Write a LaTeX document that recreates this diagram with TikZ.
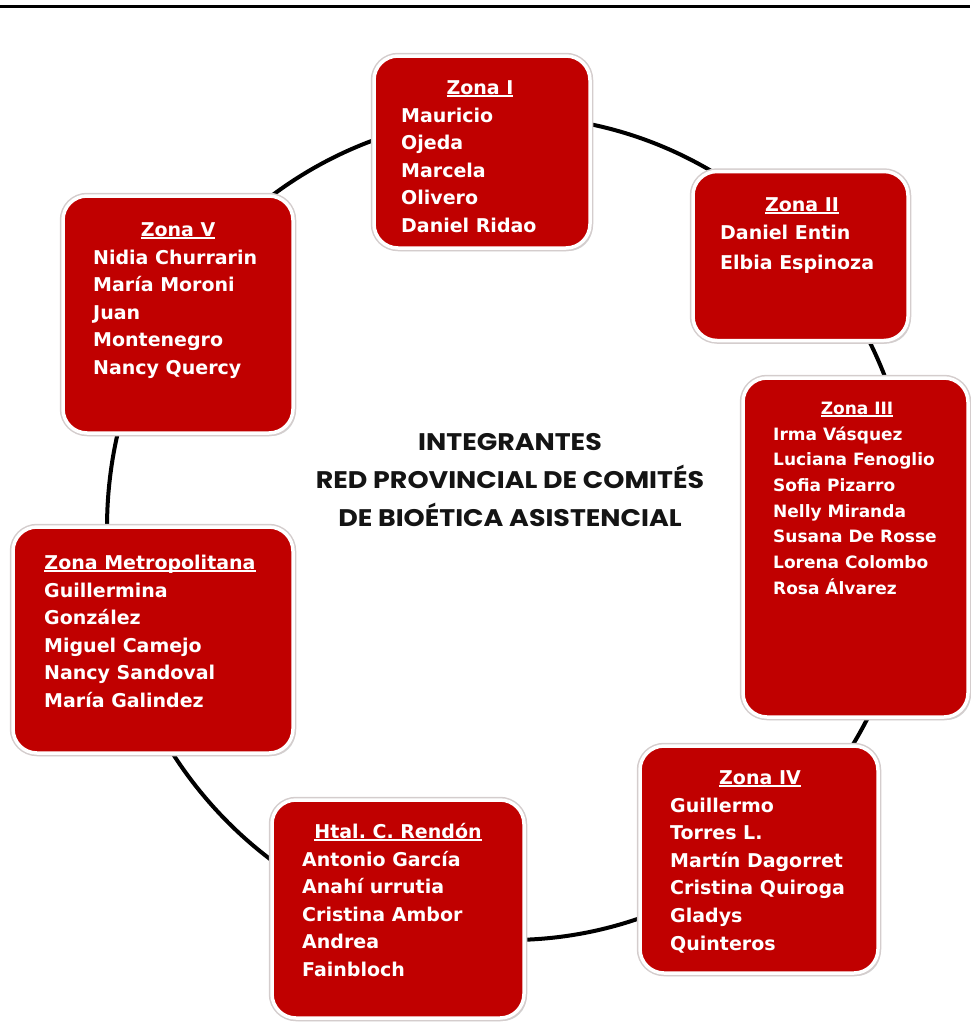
\documentclass[tikz,border=0pt]{standalone}
\usepackage{fontspec}
\setmainfont{DejaVu Sans}
\newfontfamily\boxfont{DejaVu Sans}
\newfontfamily\titlefont{Poppins}[FakeStretch=1.12]
\usetikzlibrary{shadows}
\frenchspacing
\definecolor{zred}{RGB}{192,0,0}
\definecolor{rimgray}{RGB}{212,205,205}
\newcommand{\zul}[1]{{\setbox0\hbox{#1}\rlap{\rule[-2.6pt]{\wd0}{1.7pt}}\box0}}
\newcommand{\bigf}{\boxfont\bfseries\fontsize{19}{27.6}\selectfont}
\newcommand{\smallf}{\boxfont\bfseries\fontsize{17}{25.7}\selectfont}
\tikzset{
  zone/.style={fill=zred, draw=white, line width=3.5pt, rounded corners=24pt, inner sep=0pt,
    drop shadow={shadow xshift=2.5pt, shadow yshift=-3pt, opacity=0.35, fill=gray},
    preaction={draw=rimgray, line width=6.5pt}},
  ring/.style={draw=black, line width=4pt},
  topline/.style={draw=black, line width=3pt},
  ztitle/.style={text=white, anchor=base, inner sep=0pt},
  znames/.style={text=white, anchor=base west, inner sep=0pt},
  heading/.style={font=\titlefont\bfseries\fontsize{24}{38}\selectfont, align=center, text=black!92, inner sep=0pt}
}
\begin{document}
\begin{tikzpicture}[x=1pt, y=-1pt]
\useasboundingbox (0,0) rectangle (970,1031);
% top rule
\coordinate (tl) at (0,6);
\coordinate (tr) at (970,6);
\draw[topline] (tl) -- (tr);
% ring
\coordinate (ringc) at (510,528);
\draw[ring] (ringc) ellipse [x radius=403pt, y radius=412pt];
% boxes
\node[zone, minimum width=216pt, minimum height=192pt] (z1) at (482,152) {};
\node[zone, minimum width=215pt, minimum height=169pt] (z2) at (800.5,256) {};
\node[zone, minimum width=225pt, minimum height=339pt] (z3) at (855.5,547.5) {};
\node[zone, minimum width=238pt, minimum height=227pt] (z4) at (759,859.5) {};
\node[zone, minimum width=252pt, minimum height=218pt] (zh) at (398,909) {};
\node[zone, minimum width=280pt, minimum height=226pt] (zm) at (153,640) {};
\node[zone, minimum width=230pt, minimum height=237pt] (z5) at (178,314.5) {};
% Zona I
\node[ztitle, font=\bigf] (z1t) at (480,94) {\zul{Zona I}};
\node[znames] (z1n) at (401,122) {\bigf\begin{tabular}[t]{@{}l@{}}Mauricio\\Ojeda\\Marcela\\Olivero\\Daniel Ridao\end{tabular}};
% Zona II
\node[ztitle, font=\bigf] (z2t) at (802,211) {\zul{Zona II}};
\node[znames] (z2n) at (720,239) {\boxfont\bfseries\fontsize{19}{30}\selectfont\begin{tabular}[t]{@{}l@{}}Daniel Entin\\Elbia Espinoza\end{tabular}};
% Zona III
\node[ztitle, font=\smallf] (z3t) at (857,414) {\zul{Zona III}};
\node[znames] (z3n) at (773,440) {\smallf\begin{tabular}[t]{@{}l@{}}Irma Vásquez\\Luciana Fenoglio\\Sofia Pizarro\\Nelly Miranda\\Susana De Rosse\\Lorena Colombo\\Rosa Álvarez\end{tabular}};
% Zona IV
\node[ztitle, font=\bigf] (z4t) at (760,784) {\zul{Zona IV}};
\node[znames] (z4n) at (670,812) {\bigf\begin{tabular}[t]{@{}l@{}}Guillermo\\Torres L.\\Martín Dagorret\\Cristina Quiroga\\Gladys\\Quinteros\end{tabular}};
% Htal
\node[ztitle, font=\bigf] (zht) at (398,838) {\zul{Htal.\ C.\ Rendón}};
\node[znames] (zhn) at (302,866) {\bigf\begin{tabular}[t]{@{}l@{}}Antonio García\\Anahí urrutia\\Cristina Ambor\\Andrea\\Fainbloch\end{tabular}};
% Metropolitana
\node[ztitle, font=\bigf] (zmt) at (150,569) {\zul{Zona Metropolitana}};
\node[znames] (zmn) at (44,597) {\bigf\begin{tabular}[t]{@{}l@{}}Guillermina\\González\\Miguel Camejo\\Nancy Sandoval\\María Galindez\end{tabular}};
% Zona V
\node[ztitle, font=\bigf] (z5t) at (178,236) {\zul{Zona V}};
\node[znames] (z5n) at (93,264) {\bigf\begin{tabular}[t]{@{}l@{}}Nidia Churrarin\\María Moroni\\Juan\\Montenegro\\Nancy Quercy\end{tabular}};
% heading
\node[heading] (head) at (510,480) {INTEGRANTES\\RED PROVINCIAL DE COMITÉS\\DE BIOÉTICA ASISTENCIAL};
\end{tikzpicture}
\end{document}
